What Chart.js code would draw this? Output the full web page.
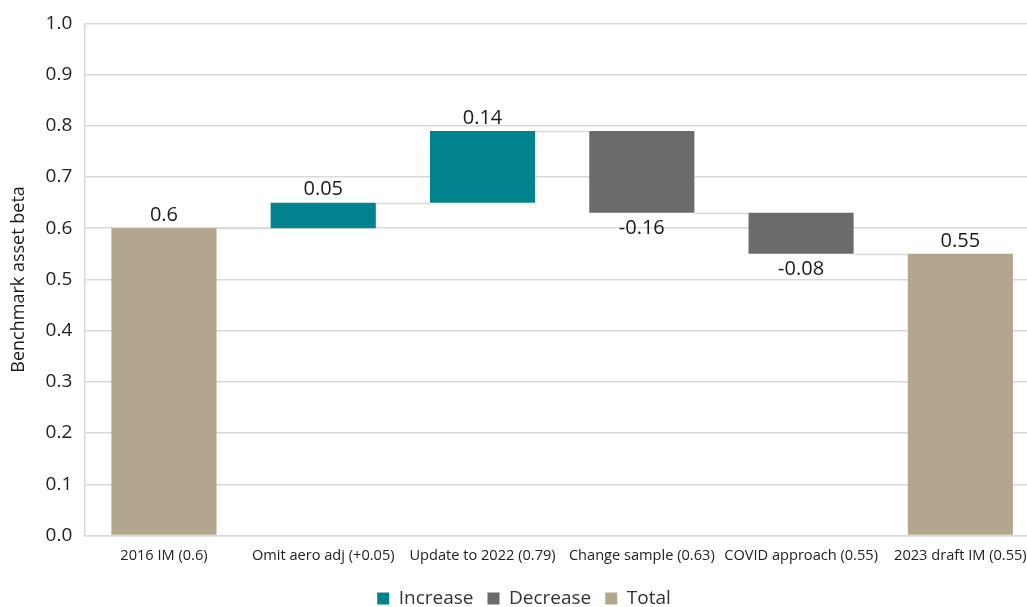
<!DOCTYPE html>
<html>
<head>
<meta charset="utf-8">
<script src="https://cdn.jsdelivr.net/npm/chart.js@4/dist/chart.umd.min.js"></script>
<style>
  html, body { margin: 0; padding: 0; background: #fff; overflow: hidden; }
  #wrap { width: 1040px; height: 607px; }
</style>
</head>
<body>
<div id="wrap"><canvas id="beta"></canvas></div>
<script>
const labels = ['2016 IM (0.6)', 'Omit aero adj (+0.05)', 'Update to 2022 (0.79)', 'Change sample (0.63)', 'COVID approach (0.55)', '2023 draft IM (0.55)'];
const changes = [0.6, 0.05, 0.14, -0.16, -0.08, 0.55];
const kinds = ['total', 'up', 'up', 'down', 'down', 'total'];
const yTicks = [0, 0.1, 0.2, 0.3, 0.4, 0.5, 0.6, 0.7, 0.8, 0.9, 1.0];

const colors = { up: '#00838F', down: '#6B6B6B', total: '#B2A78E' };

// running totals -> floating bar ranges
const ranges = [];
let level = 0;
changes.forEach((c, i) => {
  if (kinds[i] === 'total') {
    level = c;
    ranges.push([0, c]);
  } else {
    ranges.push([level, level + c]);
    level = level + c;
  }
});

const pick = k => ranges.map((r, i) => kinds[i] === k ? r : null);

const font = "'Open Sans', sans-serif";

const waterfallExtras = {
  id: 'waterfallExtras',
  afterDatasetsDraw(chart) {
    const ctx = chart.ctx;
    const y = chart.scales.y;
    // connectors
    ctx.save();
    ctx.strokeStyle = '#d9d9d9';
    ctx.lineWidth = 1.5;
    const metas = chart.data.datasets.map((d, i) => chart.getDatasetMeta(i));
    const barAt = i => {
      const ds = chart.data.datasets.findIndex(d => d.data[i] !== null);
      return metas[ds].data[i];
    };
    for (let i = 0; i < ranges.length - 1; i++) {
      const a = barAt(i), b = barAt(i + 1);
      const lv = ranges[i][1];
      const py = Math.round(y.getPixelForValue(lv)) + 0.5;
      ctx.beginPath();
      ctx.moveTo(a.x + a.width / 2, py);
      ctx.lineTo(b.x - b.width / 2, py);
      ctx.stroke();
    }
    // value labels
    ctx.fillStyle = '#1a1a1a';
    ctx.font = '20px ' + font;
    ctx.textAlign = 'center';
    for (let i = 0; i < ranges.length; i++) {
      const bar = barAt(i);
      const v = changes[i];
      const txt = String(v);
      if (v >= 0) {
        ctx.textBaseline = 'bottom';
        ctx.fillText(txt, bar.x, y.getPixelForValue(Math.max(...ranges[i])) - 3);
      } else {
        ctx.textBaseline = 'top';
        ctx.fillText(txt, bar.x, y.getPixelForValue(Math.min(...ranges[i])) + 5);
      }
    }
    ctx.restore();
  }
};

new Chart(document.getElementById('beta'), {
  type: 'bar',
  data: {
    labels: labels,
    datasets: [
      { label: 'Increase', data: pick('up'), backgroundColor: colors.up, grouped: false },
      { label: 'Decrease', data: pick('down'), backgroundColor: colors.down, grouped: false },
      { label: 'Total', data: pick('total'), backgroundColor: colors.total, grouped: false }
    ]
  },
  options: {
    responsive: true,
    maintainAspectRatio: false,
    animation: false,
    layout: { padding: { top: 3, right: 0, left: 8, bottom: -11 } },
    datasets: { bar: { categoryPercentage: 0.66, barPercentage: 1 } },
    plugins: {
      legend: {
        position: 'bottom',
        labels: {
          font: { family: font, size: 19 },
          color: '#333',
          boxWidth: 12,
          boxHeight: 12,
          padding: 14
        }
      },
      tooltip: { enabled: false }
    },
    scales: {
      x: {
        grid: { display: false, tickLength: 0 },
        border: { color: '#d9d9d9', width: 1.5 },
        ticks: { font: { family: font, size: 14.6 }, color: '#222', maxRotation: 0, autoSkip: false, padding: 12 },
        afterFit: axis => { axis.height -= 2; }
      },
      y: {
        min: 0,
        max: 1,
        afterBuildTicks: axis => { axis.ticks = yTicks.map(v => ({ value: v })); },
        grid: { color: '#d9d9d9', lineWidth: 1.5, tickLength: 0 },
        border: { color: '#d9d9d9', width: 1.5 },
        ticks: {
          font: { family: font, size: 19 },
          color: '#222',
          padding: 12,
          callback: v => v.toFixed(1)
        },
        title: {
          display: true,
          text: 'Benchmark asset beta',
          font: { family: font, size: 18 },
          color: '#1a1a1a',
          padding: { top: 0, bottom: 4 }
        }
      }
    }
  },
  plugins: [waterfallExtras]
});
</script>
</body>
</html>
